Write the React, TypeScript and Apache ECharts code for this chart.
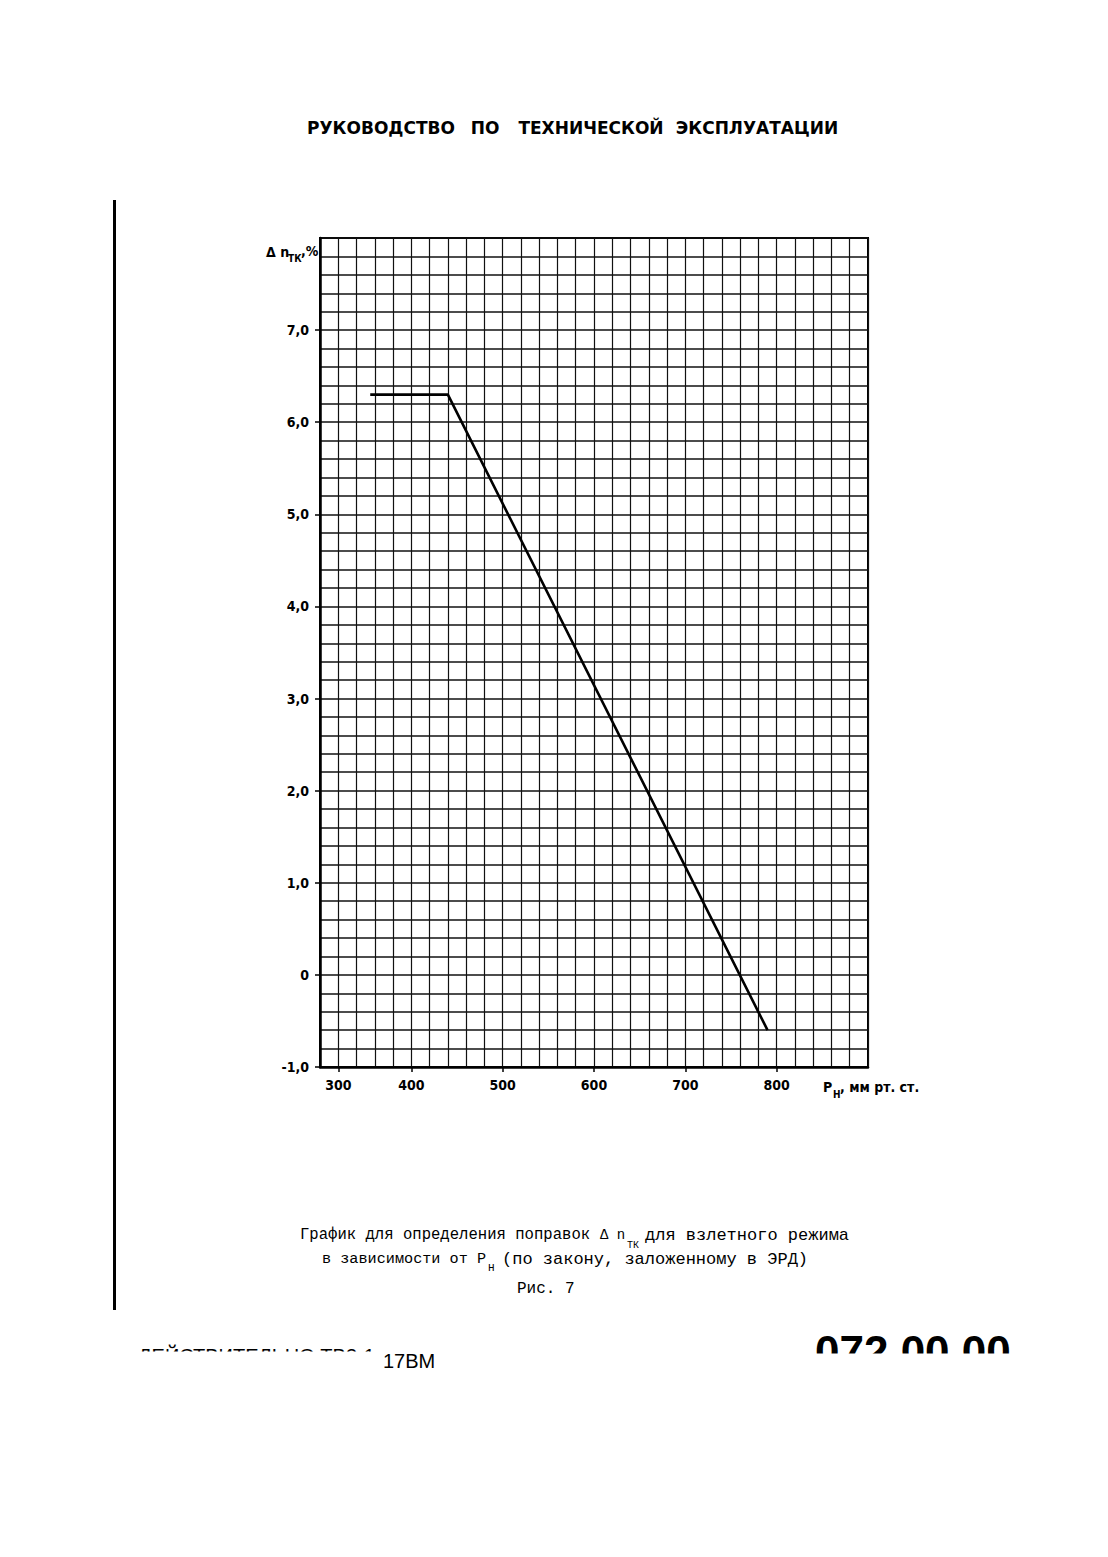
import React, { useEffect, useRef } from "react";
import * as echarts from "echarts";

// Data
const PRESSURE = [355, 440, 790]; // P_H, мм рт. ст.
const DELTA_N = [6.3, 6.3, -0.6]; // Δn_TK, %

const X_TICK_VALUES = [320, 400, 500, 600, 700, 800];
const X_TICK_LABELS = ["300", "400", "500", "600", "700", "800"];
const Y_TICK_VALUES = [-1, 0, 1, 2, 3, 4, 5, 6, 7];
const Y_TICK_LABELS = ["-1,0", "0", "1,0", "2,0", "3,0", "4,0", "5,0", "6,0", "7,0"];

const TITLE_WORDS = ["РУКОВОДСТВО", "ПО", "ТЕХНИЧЕСКОЙ", "ЭКСПЛУАТАЦИИ"];
const TITLE_CENTERS = [381, 485, 591, 757];

const AXIS_FONT = '"DejaVu Sans Condensed", "Liberation Sans Narrow", sans-serif';
const MONO = '"Liberation Mono", "DejaVu Sans Mono", monospace';
const SANS = '"Liberation Sans", Arial, sans-serif';

function txt(text: string, x: number, y: number, o: any = {}) {
  return {
    type: "text",
    x,
    y,
    z: o.z ?? 10,
    silent: true,
    style: {
      text,
      fill: "#000",
      fontSize: o.size ?? 14,
      fontFamily: o.family ?? AXIS_FONT,
      fontWeight: o.weight ?? "normal",
      align: o.align ?? "left",
      verticalAlign: "middle",
    },
  };
}

export default function App() {
  const ref = useRef<HTMLDivElement>(null);
  useEffect(() => {
    if (!ref.current) return;
    const chart = echarts.init(ref.current, null, { renderer: "svg" });
    const yLabel = (v: number) => {
      const i = Y_TICK_VALUES.findIndex((t) => Math.abs(t - v) < 1e-6);
      return i >= 0 ? Y_TICK_LABELS[i] : "";
    };
    const xLabel = (v: number) => {
      const i = X_TICK_VALUES.findIndex((t) => Math.abs(t - v) < 1e-6);
      return i >= 0 ? X_TICK_LABELS[i] : "";
    };
    const graphic: any[] = [
      { type: "rect", silent: true, shape: { x: 113, y: 200, width: 3, height: 1110 }, style: { fill: "#000" } },
      ...TITLE_WORDS.map((w, i) =>
        txt(w, TITLE_CENTERS[i], 128, { size: 17, family: '"DejaVu Sans", sans-serif', weight: "bold", align: "center" })
      ),
      // y axis name
      txt("Δ n", 266, 252, { size: 14, weight: "bold" }),
      txt("ТК", 288, 258, { size: 10, weight: "bold" }),
      txt(",%", 301, 251, { size: 14, weight: "bold" }),
      // x axis name
      txt("P", 823, 1087, { size: 14, weight: "bold" }),
      txt("Н", 833, 1094, { size: 10, weight: "bold" }),
      txt(", мм рт. ст.", 840, 1087, { size: 14, weight: "bold" }),
      // caption
      txt("График для определения поправок", 300, 1235, { size: 15.6, family: MONO }),
      txt("Δ n", 600, 1235, { size: 14, family: MONO }),
      txt("ТК", 627, 1245, { size: 10, family: MONO }),
      txt("для взлетного режима", 645, 1235, { size: 17, family: MONO }),
      txt("в зависимости от P", 322, 1259, { size: 15.2, family: MONO }),
      txt("Н", 488, 1268, { size: 11, family: MONO }),
      txt("(по закону, заложенному в ЭРД)", 502, 1259, { size: 17, family: MONO }),
      txt("Рис. 7", 517, 1289, { size: 16, family: MONO }),
      // footer (partly cut in the scan)
      txt("ДЕЙСТВИТЕЛЬНО ТВ3-1", 138, 1356, { size: 20, family: SANS }),
      txt("17ВМ", 383, 1361, { size: 20, family: SANS }),
      txt("072.00.00", 815, 1351, { size: 44, family: SANS, weight: "bold" }),
      { type: "rect", silent: true, z: 20, shape: { x: 125, y: 1351.5, width: 252, height: 25 }, style: { fill: "#fff" } },
      { type: "rect", silent: true, z: 20, shape: { x: 800, y: 1353.5, width: 250, height: 40 }, style: { fill: "#fff" } },
    ];

    const labelStyle = {
      margin: 11,
      color: "#000",
      fontFamily: AXIS_FONT,
      fontWeight: "bold",
      fontSize: 14,
    };

    chart.setOption({
      animation: false,
      backgroundColor: "#fff",
      grid: {
        left: 320,
        top: 238,
        width: 548,
        height: 829,
        show: true,
        borderColor: "#000",
        borderWidth: 2,
        backgroundColor: "transparent",
      },
      xAxis: [
        {
          type: "value",
          min: 300,
          max: 900,
          interval: 20,
          position: "bottom",
          axisLine: { show: true, onZero: false, lineStyle: { color: "#000", width: 2.5 } },
          axisTick: { show: false },
          axisLabel: { show: false },
          splitLine: { show: true, lineStyle: { color: "#111", width: 1.2 } },
        },
        {
          type: "value",
          min: 300,
          max: 900,
          position: "bottom",
          offset: 0,
          axisLine: { show: false, onZero: false },
          axisTick: { show: true, customValues: X_TICK_VALUES, length: 5, lineStyle: { color: "#000", width: 1.5 } },
          axisLabel: { ...labelStyle, customValues: X_TICK_VALUES, formatter: xLabel },
          splitLine: { show: false },
        },
      ],
      yAxis: [
        {
          type: "value",
          min: -1,
          max: 8,
          interval: 0.2,
          position: "left",
          axisLine: { show: true, onZero: false, lineStyle: { color: "#000", width: 2.5 } },
          axisTick: { show: false },
          axisLabel: { show: false },
          splitLine: { show: true, lineStyle: { color: "#111", width: 1.5 } },
        },
        {
          type: "value",
          min: -1,
          max: 8,
          position: "left",
          offset: 0,
          axisLine: { show: false, onZero: false },
          axisTick: { show: true, customValues: Y_TICK_VALUES, length: 5, lineStyle: { color: "#000", width: 1.5 } },
          axisLabel: { ...labelStyle, customValues: Y_TICK_VALUES, formatter: yLabel },
          splitLine: { show: false },
        },
      ],
      series: [
        {
          type: "line",
          xAxisIndex: 0,
          yAxisIndex: 0,
          data: PRESSURE.map((p, i) => [p, DELTA_N[i]]),
          symbol: "none",
          silent: true,
          lineStyle: { color: "#000", width: 2.6 },
          z: 5,
        },
      ],
      graphic,
    });
    return () => chart.dispose();
  }, []);
  return (
    <div
      ref={ref}
      style={{ position: "absolute", left: 0, top: 0, width: 1108, height: 1557, background: "#fff" }}
    />
  );
}
